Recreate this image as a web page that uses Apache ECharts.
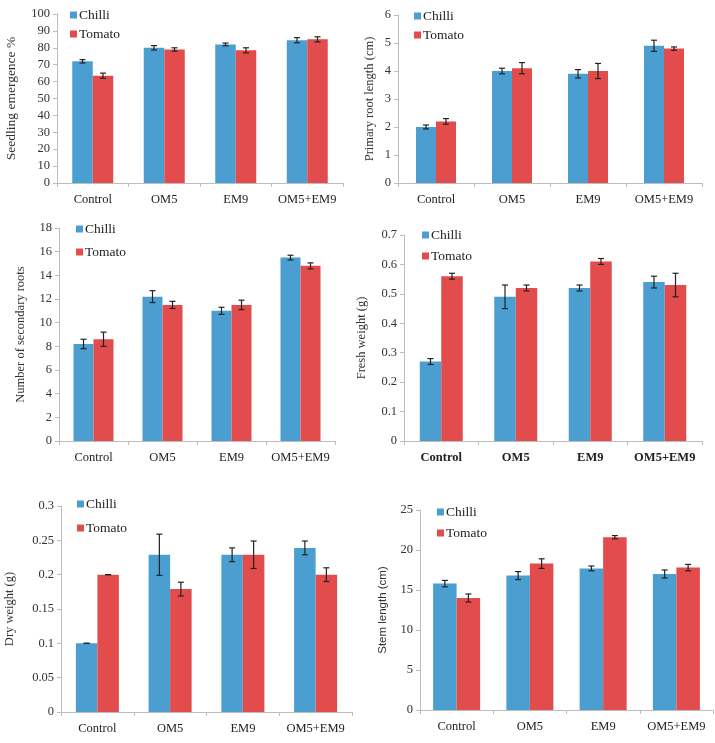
<!DOCTYPE html>
<html>
<head>
<meta charset="utf-8">
<script src="https://cdn.jsdelivr.net/npm/echarts@6/dist/echarts.min.js"></script>
<style>
  html, body { margin: 0; padding: 0; background: #fff; }
  #chart { width: 715px; height: 743px; }
</style>
</head>
<body>
<div id="chart"></div>
<script>
  const categories = ['Control', 'OM5', 'EM9', 'OM5+EM9'];

  // seedling emergence %
  const emergenceChilli = [72, 80, 82, 84.5];
  const emergenceChilliErr = [1, 1.3, 0.8, 1.5];
  const emergenceTomato = [63.5, 79, 78.5, 85];
  const emergenceTomatoErr = [1.5, 1, 1.5, 1.5];
  const emergenceTicks = { min: 0, max: 100, interval: 10 };

  // primary root length (cm)
  const rootChilli = [2.0, 4.0, 3.9, 4.9];
  const rootChilliErr = [0.07, 0.1, 0.15, 0.2];
  const rootTomato = [2.2, 4.1, 4.0, 4.8];
  const rootTomatoErr = [0.1, 0.2, 0.27, 0.06];
  const rootTicks = { min: 0, max: 6, interval: 1 };

  // number of secondary roots
  const secondaryChilli = [8.2, 12.2, 11.0, 15.5];
  const secondaryChilliErr = [0.4, 0.5, 0.3, 0.2];
  const secondaryTomato = [8.6, 11.5, 11.5, 14.8];
  const secondaryTomatoErr = [0.6, 0.3, 0.4, 0.25];
  const secondaryTicks = { min: 0, max: 18, interval: 2 };

  // fresh weight (g)
  const freshChilli = [0.27, 0.49, 0.52, 0.54];
  const freshChilliErr = [0.01, 0.04, 0.01, 0.02];
  const freshTomato = [0.56, 0.52, 0.61, 0.53];
  const freshTomatoErr = [0.01, 0.01, 0.01, 0.04];
  const freshTicks = { min: 0, max: 0.7, interval: 0.1 };

  // dry weight (g)
  const dryChilli = [0.1, 0.229, 0.229, 0.239];
  const dryChilliErr = [0, 0.03, 0.01, 0.01];
  const dryTomato = [0.2, 0.179, 0.229, 0.2];
  const dryTomatoErr = [0, 0.01, 0.02, 0.01];
  const dryTicks = { min: 0, max: 0.3, interval: 0.05 };

  // stem length (cm)
  const stemChilli = [15.8, 16.8, 17.7, 17.0];
  const stemChilliErr = [0.4, 0.5, 0.3, 0.5];
  const stemTomato = [14.0, 18.3, 21.6, 17.8];
  const stemTomatoErr = [0.5, 0.6, 0.2, 0.4];
  const stemTicks = { min: 0, max: 25, interval: 5 };

  const chilliColor = '#4A9FD0';
  const tomatoColor = '#E24C4C';
  const serif = '"Liberation Serif", "DejaVu Serif", serif';

  const panels = [
    { title: 'Seedling emergence %', ticks: emergenceTicks, chilli: emergenceChilli, chilliErr: emergenceChilliErr, tomato: emergenceTomato, tomatoErr: emergenceTomatoErr,
      grid: { left: 57, top: 14, width: 286, height: 169 }, barWidth: 20.5, nameGap: 39, nameSize: 13.5, legend: { left: 65, top: 3, gap: 5 } },
    { title: 'Primary root length (cm)', ticks: rootTicks, chilli: rootChilli, chilliErr: rootChilliErr, tomato: rootTomato, tomatoErr: rootTomatoErr,
      grid: { left: 398, top: 15, width: 304, height: 168 }, barWidth: 20, nameGap: 22, nameSize: 12.5, legend: { left: 409, top: 4, gap: 5 } },
    { title: 'Number of secondary roots', ticks: secondaryTicks, chilli: secondaryChilli, chilliErr: secondaryChilliErr, tomato: secondaryTomato, tomatoErr: secondaryTomatoErr,
      grid: { left: 59, top: 228, width: 276, height: 213 }, barWidth: 20, nameGap: 32, nameSize: 12.5, legend: { left: 71, top: 217, gap: 9 } },
    { title: 'Fresh weight (g)', ticks: freshTicks, chilli: freshChilli, chilliErr: freshChilliErr, tomato: freshTomato, tomatoErr: freshTomatoErr,
      grid: { left: 404, top: 235, width: 298, height: 206 }, barWidth: 21.5, nameGap: 36, nameSize: 12.5, legend: { left: 417, top: 223, gap: 7 }, boldLabels: true },
    { title: 'Dry weight (g)', ticks: dryTicks, chilli: dryChilli, chilliErr: dryChilliErr, tomato: dryTomato, tomatoErr: dryTomatoErr,
      grid: { left: 61, top: 506, width: 291, height: 206 }, barWidth: 21.5, nameGap: 45, nameSize: 12.5, legend: { left: 72, top: 492, gap: 10 } },
    { title: 'Stem length (cm)', ticks: stemTicks, chilli: stemChilli, chilliErr: stemChilliErr, tomato: stemTomato, tomatoErr: stemTomatoErr,
      grid: { left: 420, top: 510, width: 293, height: 200 }, barWidth: 23.5, nameGap: 31, nameSize: 11.5, nameFont: '"Liberation Sans", "DejaVu Sans", sans-serif', legend: { left: 432, top: 500, gap: 7 } },
  ];

  const axisColor = '#BDBDBD';

  const errorSeries = (name, idx, values, errs, offsetSign, barWidth) => ({
    name,
    type: 'custom',
    xAxisIndex: idx,
    yAxisIndex: idx,
    z: 10,
    silent: true,
    data: values.map((v, i) => [i, v, errs[i]]),
    encode: { x: 0, y: 1 },
    renderItem: (params, api) => {
      const v = api.value(1);
      const e = api.value(2);
      const top = api.coord([api.value(0), v + e]);
      const bot = api.coord([api.value(0), v - e]);
      const cx = top[0] + offsetSign * barWidth / 2;
      const cap = 3;
      const style = { stroke: '#222', lineWidth: 1.2 };
      return {
        type: 'group',
        children: [
          { type: 'line', shape: { x1: cx, y1: top[1], x2: cx, y2: bot[1] }, style },
          { type: 'line', shape: { x1: cx - cap, y1: top[1], x2: cx + cap, y2: top[1] }, style },
          { type: 'line', shape: { x1: cx - cap, y1: bot[1], x2: cx + cap, y2: bot[1] }, style },
        ],
      };
    },
  });

  const option = {
    backgroundColor: '#fff',
    animation: false,
    grid: panels.map((p) => ({ ...p.grid, containLabel: false })),
    legend: panels.map((p) => ({
      data: ['Chilli', 'Tomato'],
      orient: 'vertical',
      left: p.legend.left,
      top: p.legend.top,
      itemGap: p.legend.gap,
      itemWidth: 7,
      itemHeight: 7,
      icon: 'rect',
      selectedMode: false,
      textStyle: { fontFamily: serif, fontSize: 13.5, color: '#222', padding: [0, 0, 0, -3] },
    })),
    xAxis: panels.map((p, idx) => ({
      type: 'category',
      gridIndex: idx,
      data: categories,
      axisLine: { lineStyle: { color: axisColor, width: 1 } },
      axisTick: { show: true, length: 4, lineStyle: { color: axisColor } },
      axisLabel: {
        interval: 0,
        fontFamily: serif,
        fontSize: 12.5,
        color: '#222',
        margin: 10,
        fontWeight: p.boldLabels ? 'bold' : 'normal',
      },
    })),
    yAxis: panels.map((p, idx) => ({
      type: 'value',
      gridIndex: idx,
      min: p.ticks.min,
      max: p.ticks.max,
      interval: p.ticks.interval,
      name: p.title,
      nameLocation: 'middle',
      nameGap: p.nameGap,
      nameRotate: 90,
      nameTextStyle: { fontFamily: p.nameFont || serif, fontSize: p.nameSize, color: '#333' },
      axisLine: { show: true, lineStyle: { color: axisColor } },
      axisTick: { show: true, length: 4, lineStyle: { color: axisColor } },
      splitLine: { show: false },
      axisLabel: { fontFamily: serif, fontSize: 12.5, color: '#333', margin: 7 },
    })),
    series: panels.flatMap((p, idx) => [
      {
        name: 'Chilli',
        type: 'bar',
        xAxisIndex: idx,
        yAxisIndex: idx,
        barWidth: p.barWidth,
        barGap: '0%',
        itemStyle: { color: chilliColor },
        data: p.chilli,
      },
      {
        name: 'Tomato',
        type: 'bar',
        xAxisIndex: idx,
        yAxisIndex: idx,
        barWidth: p.barWidth,
        barGap: '0%',
        itemStyle: { color: tomatoColor },
        data: p.tomato,
      },
      errorSeries('err-chilli-' + idx, idx, p.chilli, p.chilliErr, -1, p.barWidth),
      errorSeries('err-tomato-' + idx, idx, p.tomato, p.tomatoErr, 1, p.barWidth),
    ]),
  };

  const chart = echarts.init(document.getElementById('chart'));
  chart.setOption(option);
</script>
</body>
</html>
